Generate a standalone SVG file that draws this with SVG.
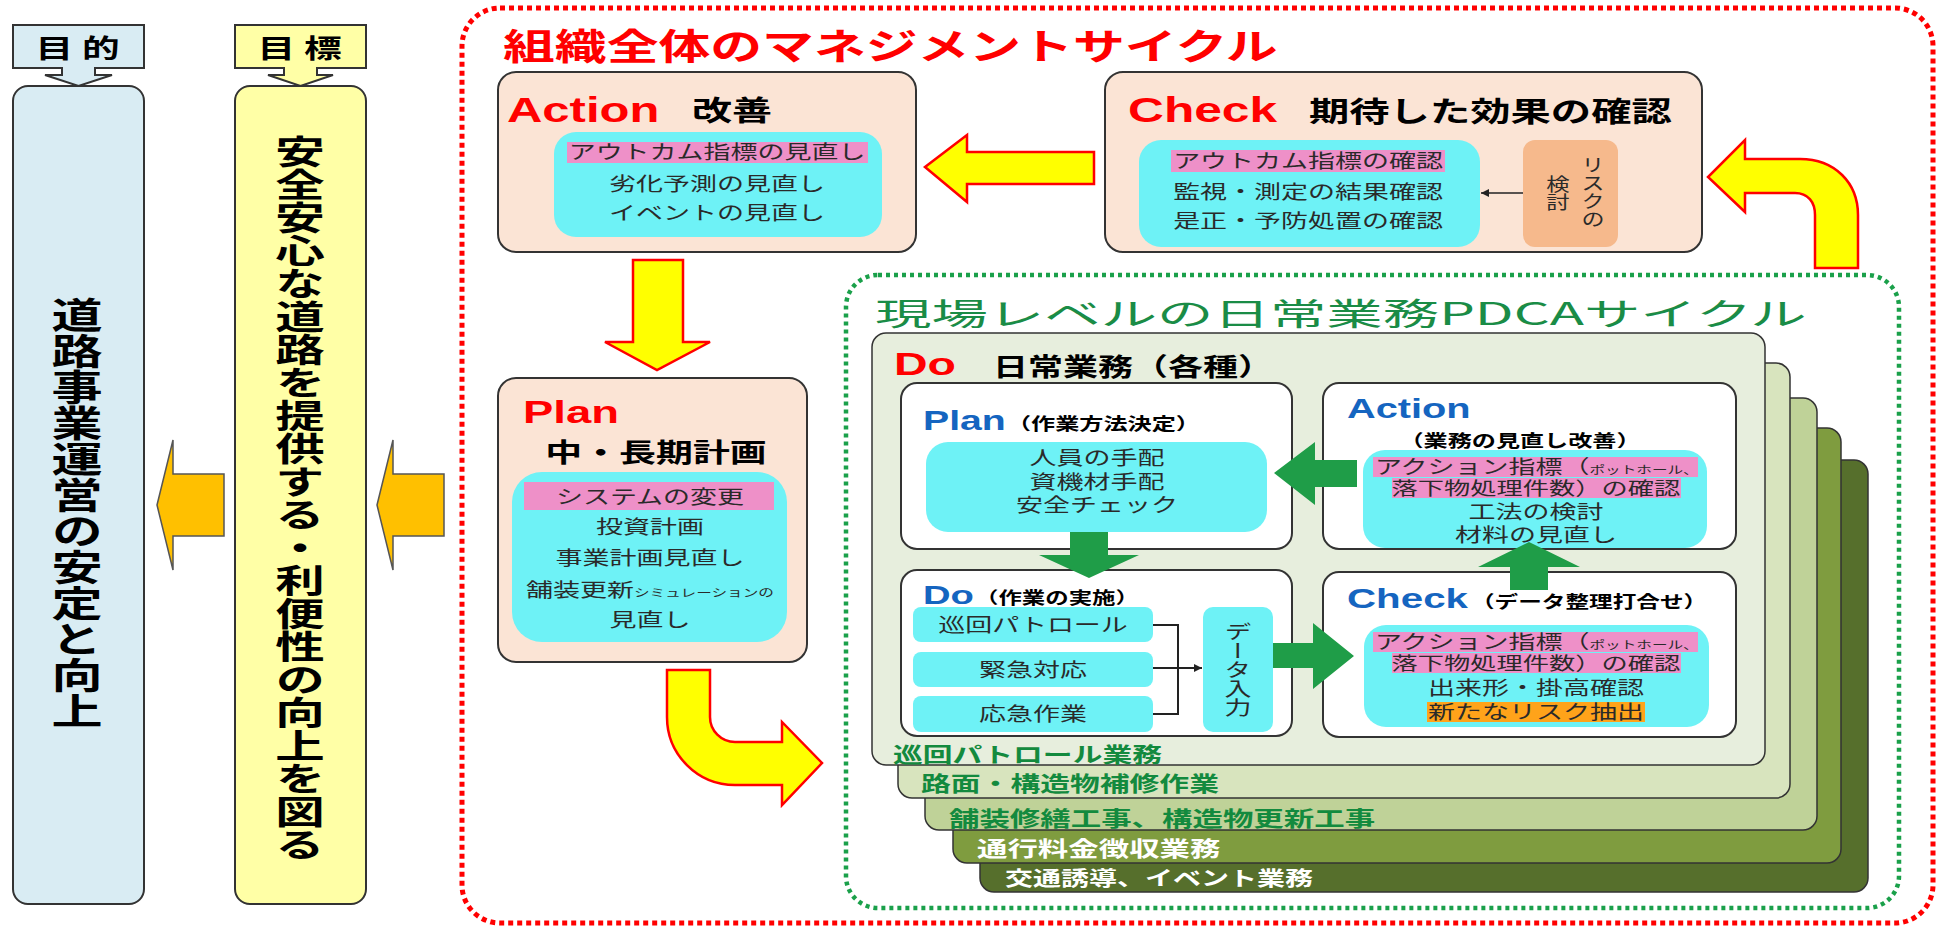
<svg xmlns="http://www.w3.org/2000/svg" width="1939" height="927" viewBox="0 0 1939 927">
<defs>
<style>
.jb{font-family:"Noto Sans CJK JP","Noto Sans CJK SC",sans-serif;font-weight:700}
.jm{font-family:"Noto Sans CJK JP","Noto Sans CJK SC",sans-serif;font-weight:400;fill:#2a2a2a}
.lb{font-family:"Liberation Sans","Noto Sans CJK JP",sans-serif;font-weight:700}
.v{writing-mode:vertical-rl}
.mid{text-anchor:middle}
.box{fill:#fbe4d5;stroke:#333;stroke-width:2}
.inner{fill:#fff;stroke:#333;stroke-width:2}
.cyan{fill:#6ef2f6}
.pink{fill:#ee90c8}
.yarrow{fill:#ffff00;stroke:#ff0000;stroke-width:2.5;stroke-linejoin:miter}
.garrow{fill:#1f9d48}
.oarrow{fill:#ffc000;stroke:#555;stroke-width:1.5}
.layer{stroke:#333;stroke-width:1.5}
.red{fill:#ff0000}
.blue{fill:#1565c0}
</style>
<marker id="ah" viewBox="0 0 10 10" refX="10" refY="5" markerWidth="10" markerHeight="8" markerUnits="userSpaceOnUse" orient="auto"><path d="M0,0 L10,5 L0,10 Z" fill="#222"/></marker>
</defs>
<rect width="1939" height="927" fill="#fff"/>

<g id="purpose">
<path d="M13,25 H144 V68 H95 V75 H112 L78.5,86 L45,75 H62 V68 H13 Z" fill="#d9ecf3" stroke="#333" stroke-width="2"/>
<text class="jb mid" font-size="26" transform="translate(82,58) scale(1.45,1)" letter-spacing="6">目的</text>
<rect x="13" y="86" width="131" height="818" rx="15" fill="#d9ecf3" stroke="#333" stroke-width="2"/>
<text class="jb v" font-size="36" transform="translate(77,297) scale(1.42,1)">道路事業運営の安定と向上</text>
</g>

<g id="goal">
<path d="M235,25 H366 V68 H317 V75 H333 L300.5,86 L268,75 H284 V68 H235 Z" fill="#ffffa6" stroke="#333" stroke-width="2"/>
<text class="jb mid" font-size="26" transform="translate(304,58) scale(1.45,1)" letter-spacing="6">目標</text>
<rect x="235" y="86" width="131" height="818" rx="15" fill="#ffffa6" stroke="#333" stroke-width="2"/>
<text class="jb v" font-size="33" transform="translate(300,135) scale(1.5,1)">安全安心な道路を提供する・利便性の向上を図る</text>
</g>

<g id="org-cycle">
<rect x="462" y="8" width="1471" height="915" rx="38" fill="none" stroke="#ff0000" stroke-width="5" stroke-dasharray="5 4"/>
<text class="jb red" font-size="36" transform="translate(503,60) scale(1.44,1)">組織全体のマネジメントサイクル</text>
</g>

<g id="org-action">
<rect class="box" x="498" y="72" width="418" height="180" rx="18"/>
<text class="lb red" font-size="35" transform="translate(507,122) scale(1.4,1)">Action</text>
<text class="jb" font-size="28" transform="translate(692,121) scale(1.43,1)">改善</text>
<rect class="cyan" x="554" y="132" width="328" height="105" rx="22"/>
<rect class="pink" x="567" y="142" width="301" height="21"/>
<text class="jm mid" font-size="19" transform="translate(717,159) scale(1.42,1)">アウトカム指標の見直し</text>
<text class="jm mid" font-size="19" transform="translate(717,191) scale(1.42,1)">劣化予測の見直し</text>
<text class="jm mid" font-size="19" transform="translate(717,220) scale(1.42,1)">イベントの見直し</text>
</g>

<g id="org-check">
<rect class="box" x="1105" y="72" width="597" height="180" rx="18"/>
<text class="lb red" font-size="35" transform="translate(1128,122) scale(1.42,1)">Check</text>
<text class="jb" font-size="28" transform="translate(1309,122) scale(1.44,1)">期待した効果の確認</text>
<rect class="cyan" x="1139" y="140" width="341" height="107" rx="22"/>
<rect class="pink" x="1171" y="150" width="274" height="22"/>
<text class="jm mid" font-size="19" transform="translate(1308,168) scale(1.42,1)">アウトカム指標の確認</text>
<text class="jm mid" font-size="19" transform="translate(1308,199) scale(1.42,1)">監視・測定の結果確認</text>
<text class="jm mid" font-size="19" transform="translate(1308,228) scale(1.42,1)">是正・予防処置の確認</text>
<rect x="1523" y="140" width="95" height="107" rx="12" fill="#f6b98c"/>
<text class="jm v" font-size="18" transform="translate(1593,156) scale(1.3,1)">リスクの</text>
<text class="jm v" font-size="18" transform="translate(1558,175) scale(1.3,1)">検討</text>
</g>

<g id="org-plan">
<rect class="box" x="498" y="378" width="309" height="284" rx="18"/>
<text class="lb red" font-size="32" transform="translate(523,423) scale(1.42,1)">Plan</text>
<text class="jb mid" font-size="26" transform="translate(656,462) scale(1.42,1)">中・長期計画</text>
<rect class="cyan" x="512" y="472" width="275" height="170" rx="30"/>
<rect class="pink" x="524" y="482" width="250" height="28"/>
<text class="jm mid" font-size="19" transform="translate(650,504) scale(1.42,1)">システムの変更</text>
<text class="jm mid" font-size="19" transform="translate(650,534) scale(1.42,1)">投資計画</text>
<text class="jm mid" font-size="19" transform="translate(650,565) scale(1.42,1)">事業計画見直し</text>
<text class="jm mid" font-size="19" transform="translate(650,597) scale(1.42,1)">舗装更新<tspan font-size="11">シミュレーションの</tspan></text>
<text class="jm mid" font-size="19" transform="translate(650,627) scale(1.42,1)">見直し</text>
</g>

<g id="site-cycle">
<rect x="846" y="275" width="1053" height="633" rx="32" fill="none" stroke="#1aa04a" stroke-width="4.5" stroke-dasharray="4 4"/>
<text class="jm" font-size="31" font-weight="500" style="fill:#1a8c46" transform="translate(875,325) scale(1.82,1)">現場レベルの日常業務PDCAサイクル</text>
</g>

<g id="layer5">
<rect class="layer" x="980" y="460" width="888" height="432" rx="14" fill="#566f2c"/>
<text class="jb" font-size="20" fill="#fff" transform="translate(1005,886) scale(1.4,1)">交通誘導、イベント業務</text>
</g>
<g id="layer4">
<rect class="layer" x="953" y="428" width="888" height="435" rx="14" fill="#7f9c3f"/>
<text class="jb" font-size="21" fill="#fff" transform="translate(977,856) scale(1.45,1)">通行料金徴収業務</text>
</g>
<g id="layer3">
<rect class="layer" x="925" y="398" width="892" height="432" rx="14" fill="#bfd298"/>
<text class="jb" font-size="21" fill="#138a3e" transform="translate(949,826) scale(1.45,1)">舗装修繕工事、構造物更新工事</text>
</g>
<g id="layer2">
<rect class="layer" x="898" y="363" width="892" height="435" rx="14" fill="#d8e4be"/>
<text class="jb" font-size="21" fill="#138a3e" transform="translate(921,791) scale(1.42,1)">路面・構造物補修作業</text>
</g>
<g id="layer1">
<rect class="layer" x="872" y="333" width="893" height="432" rx="14" fill="#e7eedd"/>
<text class="jb" font-size="21" fill="#138a3e" transform="translate(893,762) scale(1.42,1)">巡回パトロール業務</text>
<text class="lb red" font-size="31" transform="translate(894,375) scale(1.5,1)">Do</text>
<text class="jb" font-size="25" transform="translate(993,376) scale(1.4,1)">日常業務（各種）</text>
</g>

<g id="site-plan">
<rect class="inner" x="901" y="383" width="391" height="166" rx="16"/>
<text class="lb blue" font-size="28" transform="translate(923,430) scale(1.4,1)">Plan</text>
<text class="jb" font-size="17" transform="translate(1007,430) scale(1.42,1)">（作業方法決定）</text>
<rect class="cyan" x="926" y="442" width="341" height="90" rx="22"/>
<text class="jm mid" font-size="19" transform="translate(1097,465) scale(1.42,1)">人員の手配</text>
<text class="jm mid" font-size="19" transform="translate(1097,489) scale(1.42,1)">資機材手配</text>
<text class="jm mid" font-size="19" transform="translate(1097,512) scale(1.42,1)">安全チェック</text>
</g>

<g id="site-action">
<rect class="inner" x="1323" y="383" width="413" height="166" rx="16"/>
<text class="lb blue" font-size="28" transform="translate(1347,418) scale(1.42,1)">Action</text>
<text class="jb mid" font-size="17" transform="translate(1520,447) scale(1.42,1)">（業務の見直し改善）</text>
<rect class="cyan" x="1363" y="450" width="344" height="98" rx="22"/>
<rect class="pink" x="1373" y="457" width="325" height="20"/>
<rect class="pink" x="1392" y="478" width="289" height="20"/>
<text class="jm" font-size="19" transform="translate(1375,474) scale(1.42,1)">アクション指標（<tspan font-size="11">ポットホール、</tspan></text>
<text class="jm mid" font-size="18.5" transform="translate(1536,495) scale(1.42,1)">落下物処理件数）の確認</text>
<text class="jm mid" font-size="19" transform="translate(1536,519) scale(1.42,1)">工法の検討</text>
<text class="jm mid" font-size="19" transform="translate(1536,542) scale(1.42,1)">材料の見直し</text>
</g>

<g id="site-do">
<rect class="inner" x="901" y="570" width="391" height="166" rx="16"/>
<text class="lb blue" font-size="26" transform="translate(923,604) scale(1.47,1)">Do</text>
<text class="jb" font-size="16.5" transform="translate(975,604) scale(1.42,1)">（作業の実施）</text>
<rect class="cyan" x="913" y="607" width="240" height="35" rx="8"/>
<rect class="cyan" x="913" y="652" width="240" height="35" rx="8"/>
<rect class="cyan" x="913" y="696" width="240" height="36" rx="8"/>
<text class="jm mid" font-size="19" transform="translate(1033,632) scale(1.42,1)">巡回パトロール</text>
<text class="jm mid" font-size="19" transform="translate(1033,677) scale(1.42,1)">緊急対応</text>
<text class="jm mid" font-size="19" transform="translate(1033,721) scale(1.42,1)">応急作業</text>
<rect class="cyan" x="1203" y="607" width="70" height="125" rx="10"/>
<text class="jm v" font-size="19" transform="translate(1238,622) scale(1.42,1)">データ入力</text>
</g>

<g id="site-check">
<rect class="inner" x="1323" y="572" width="413" height="165" rx="16"/>
<text class="lb blue" font-size="28" transform="translate(1347,608) scale(1.44,1)">Check</text>
<text class="jb" font-size="17" transform="translate(1471,608) scale(1.39,1)">（データ整理打合せ）</text>
<rect class="cyan" x="1364" y="625" width="345" height="102" rx="22"/>
<rect class="pink" x="1373" y="632" width="325" height="20"/>
<rect class="pink" x="1392" y="653" width="289" height="20"/>
<rect x="1427" y="702" width="218" height="20" fill="#ffa31a"/>
<text class="jm" font-size="19" transform="translate(1375,649) scale(1.42,1)">アクション指標（<tspan font-size="11">ポットホール、</tspan></text>
<text class="jm mid" font-size="18.5" transform="translate(1536,670) scale(1.42,1)">落下物処理件数）の確認</text>
<text class="jm mid" font-size="19" transform="translate(1536,695) scale(1.42,1)">出来形・掛高確認</text>
<text class="jm mid" font-size="19" transform="translate(1536,719) scale(1.42,1)">新たなリスク抽出</text>
</g>

<g id="connectors">
<path class="oarrow" d="M157,505 L173,440 V474 H224 V536 H173 V570 Z"/>
<path class="oarrow" d="M377,505 L393,440 V474 H444 V536 H393 V570 Z"/>
<path class="yarrow" d="M925,167 L967,135 V152 H1094 V184 H967 V202 Z"/>
<path class="yarrow" d="M633,260 H683 V342 H710 L657,370 L605,342 H633 Z"/>
<path class="yarrow" d="M1858,268 V215 C1858,183 1835,159 1800,159 H1745 V140 L1708,177 L1745,212 V193 H1795 C1808,193 1815,202 1815,215 V268 Z"/>
<path class="yarrow" d="M667,670 H710 V717 A25,25 0 0 0 735,742 H782 V722 L822,763 L782,805 V785 H735 A68,68 0 0 1 667,717 Z"/>
<line x1="1523" y1="193" x2="1481" y2="193" stroke="#222" stroke-width="1.5" marker-end="url(#ah)"/>
<path d="M1153,625 H1178 V714 H1153" fill="none" stroke="#222" stroke-width="2"/>
<line x1="1153" y1="668" x2="1202" y2="668" stroke="#222" stroke-width="2" marker-end="url(#ah)"/>
<path class="garrow" d="M1274,473 L1315,442 V460 H1357 V487 H1315 V505 Z"/>
<path class="garrow" d="M1070,532 H1108 V555 H1139 L1089,578 L1039,555 H1070 Z"/>
<path class="garrow" d="M1273,643 H1313 V623 L1354,656 L1313,689 V668 H1273 Z"/>
<path class="garrow" d="M1510,590 V567 H1478 L1529,542 L1580,567 H1548 V590 Z"/>
</g>
</svg>
